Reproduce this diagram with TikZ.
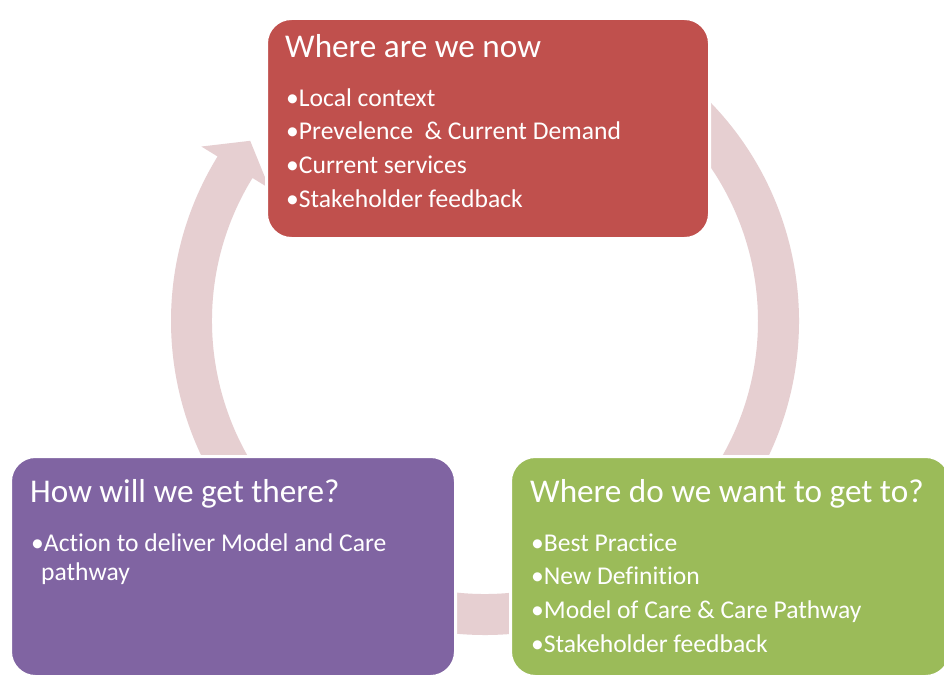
\documentclass[tikz,border=0pt]{standalone}
\usepackage{fontspec}
\setmainfont[Ligatures=NoCommon]{Carlito}
\usetikzlibrary{calc}
\definecolor{boxred}{HTML}{C0504D}
\definecolor{boxpurple}{HTML}{8064A2}
\definecolor{boxgreen}{HTML}{9BBB59}
\definecolor{ringpink}{HTML}{E6CFD1}
\tikzset{
  box/.style={rectangle, rounded corners=25pt, draw=white, line width=3pt, anchor=north west, inner sep=0pt},
  ttl/.style={anchor=base west, inner sep=0pt, text=white, font=\fontsize{33.2}{38}\selectfont},
  itm/.style={anchor=base west, inner sep=0pt, text=white, font=\fontsize{25.6}{30}\selectfont},
  ring/.style={fill=ringpink, draw=none}
}
\begin{document}
\begin{tikzpicture}[x=1pt,y=-1pt]
\useasboundingbox[fill=white] (0,0) rectangle (944,677);
\coordinate (C) at (485,321);
% ring with arrow head
\fill[ring] ($(C)+(-49:314)$) arc[start angle=-49, end angle=211.6, radius=314]
  -- ($(C)+(211.6:333)$) -- ($(C)+(217.5:296)$) -- ($(C)+(211.6:253)$)
  -- ($(C)+(211.6:273)$) arc[start angle=211.6, end angle=-49, radius=273] -- cycle;
% boxes
\node[box, fill=boxred, minimum width=443pt, minimum height=220pt] (now) at (265,17) {};
\node[box, fill=boxpurple, minimum width=445pt, minimum height=220pt] (how) at (9,455) {};
\node[box, fill=boxgreen, minimum width=440pt, minimum height=220pt] (want) at (509,455) {};
% red box text
\node[ttl] (t1) at (285,58) {Where are we now};
\node[itm] (a1) at (286,106) {•Local context};
\node[itm] (a2) at (286,139) {•Prevelence\ \ \& Current Demand};
\node[itm] (a3) at (286,173) {•Current services};
\node[itm] (a4) at (286,207) {•Stakeholder feedback};
% purple box text
\node[ttl] (t2) at (30,502) {How will we get there?};
\node[itm] (b1) at (31,551) {•Action to deliver Model and Care};
\node[itm] (b2) at (41,580) {pathway};
% green box text
\node[ttl] (t3) at (530,502) {Where do we want to get to?};
\node[itm] (c1) at (531,551) {•Best Practice};
\node[itm] (c2) at (531,584) {•New Definition};
\node[itm] (c3) at (531,618) {•Model of Care \& Care Pathway};
\node[itm] (c4) at (531,652) {•Stakeholder feedback};
\end{tikzpicture}
\end{document}
